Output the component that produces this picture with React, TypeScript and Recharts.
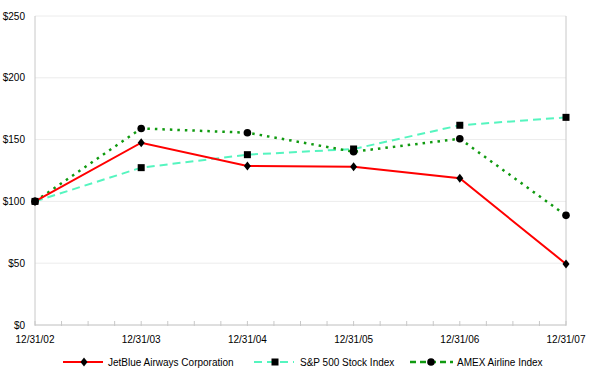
import { CartesianGrid, Legend, Line, LineChart, ReferenceLine, XAxis, YAxis } from "recharts";

const dates = ["12/31/02", "12/31/03", "12/31/04", "12/31/05", "12/31/06", "12/31/07"];
const jetBlue = [100, 147.5, 128.6, 128, 118.7, 49.4];
const sp500 = [100, 127.3, 137.8, 142.4, 161.6, 168];
const amex = [100, 159, 155.6, 140.2, 150.7, 88.7];
const yTicks = [0, 50, 100, 150, 200, 250];
// quarter ticks between the year labels
const xTicks = Array.from({ length: 21 }, (_, i) => i / 4);

const data = dates.map((d, i) => ({ idx: i, date: d, jetBlue: jetBlue[i], sp500: sp500[i], amex: amex[i] }));

const font = "'Liberation Sans', Arial, sans-serif";
const RED = "#ff0000";
const AQUA = "#55f5bf";
const GREEN = "#109a10";

const Diamond = (props: any) => {
  const { cx, cy } = props;
  if (cx == null || cy == null) return null;
  return <path d={`M${cx},${cy - 4.5}L${cx + 3.5},${cy}L${cx},${cy + 4.5}L${cx - 3.5},${cy}Z`} fill="#000" />;
};
const Square = (props: any) => {
  const { cx, cy } = props;
  if (cx == null || cy == null) return null;
  return <rect x={cx - 3.5} y={cy - 3.5} width={7} height={7} fill="#000" />;
};
const Dot = (props: any) => {
  const { cx, cy } = props;
  if (cx == null || cy == null) return null;
  return <circle cx={cx} cy={cy} r={3.8} fill="#000" />;
};

const XTick = (props: any) => {
  const { x, y, payload } = props;
  const v = payload.value as number;
  const isYear = Math.abs(v - Math.round(v)) < 1e-6;
  return (
    <g>
      <line x1={x} x2={x} y1={y - 4} y2={y + 1} stroke="#c8c8c8" />
      {isYear && (
        <text x={x} y={y + 18} textAnchor="middle" fontSize={10} fill="#000" fontFamily={font}>
          {dates[Math.round(v)]}
        </text>
      )}
    </g>
  );
};

const LegendBox = () => (
  <div style={{ position: "relative", width: 592, height: 32, fontFamily: font, fontSize: 10 }}>
    <svg width={592} height={32} style={{ position: "absolute", left: 0, top: 0 }}>
      <line x1={63} x2={103} y1={17} y2={17} stroke={RED} strokeWidth={2} />
      <path d="M84,12.5L87.5,17L84,21.5L80.5,17Z" fill="#000" />
      <text x={108} y={21} fontSize={10} fontFamily={font}>JetBlue Airways Corporation</text>

      <line x1={254} x2={294} y1={17} y2={17} stroke={AQUA} strokeWidth={2} strokeDasharray="8 5" />
      <rect x={271.5} y={13.5} width={7} height={7} fill="#000" />
      <text x={300} y={21} fontSize={10} fontFamily={font}>S&amp;P 500 Stock Index</text>

      <line x1={410} x2={453} y1={17} y2={17} stroke={GREEN} strokeWidth={2.5} strokeDasharray="6 4" />
      <circle cx={431} cy={17} r={3.8} fill="#000" />
      <text x={457} y={21} fontSize={10} fontFamily={font}>AMEX Airline Index</text>
    </svg>
  </div>
);

export default function App() {
  return (
    <div style={{ position: "absolute", left: 0, top: 0, width: 592, height: 377, background: "#fff" }}>
      <LineChart width={592} height={377} data={data} margin={{ top: 16, right: 26, left: 0, bottom: 0 }}>
        <CartesianGrid vertical={false} stroke="#ececec" />
        <XAxis
          dataKey="idx"
          type="number"
          domain={[0, 5]}
          ticks={xTicks}
          interval={0}
          height={20}
          tickLine={false}
          tickSize={0}
          tickMargin={0}
          axisLine={{ stroke: "#c8c8c8" }}
          tick={<XTick />}
        />
        <YAxis
          domain={[0, 250]}
          ticks={yTicks}
          width={35}
          tickLine={false}
          axisLine={{ stroke: "#c8c8c8" }}
          tickFormatter={(v: number) => `$${v}`}
          tick={{ fontSize: 10, fill: "#000", fontFamily: font }}
          tickMargin={4}
        />
        <ReferenceLine x={5} stroke="#c8c8c8" />
        <Legend verticalAlign="bottom" height={32} content={<LegendBox />} />
        <Line dataKey="sp500" stroke={AQUA} strokeWidth={2} strokeDasharray="8 5" dot={<Square />} isAnimationActive={false} />
        <Line dataKey="amex" stroke={GREEN} strokeWidth={2.5} strokeDasharray="2.5 5" dot={<Dot />} isAnimationActive={false} />
        <Line dataKey="jetBlue" stroke={RED} strokeWidth={2} dot={<Diamond />} isAnimationActive={false} />
      </LineChart>
    </div>
  );
}
